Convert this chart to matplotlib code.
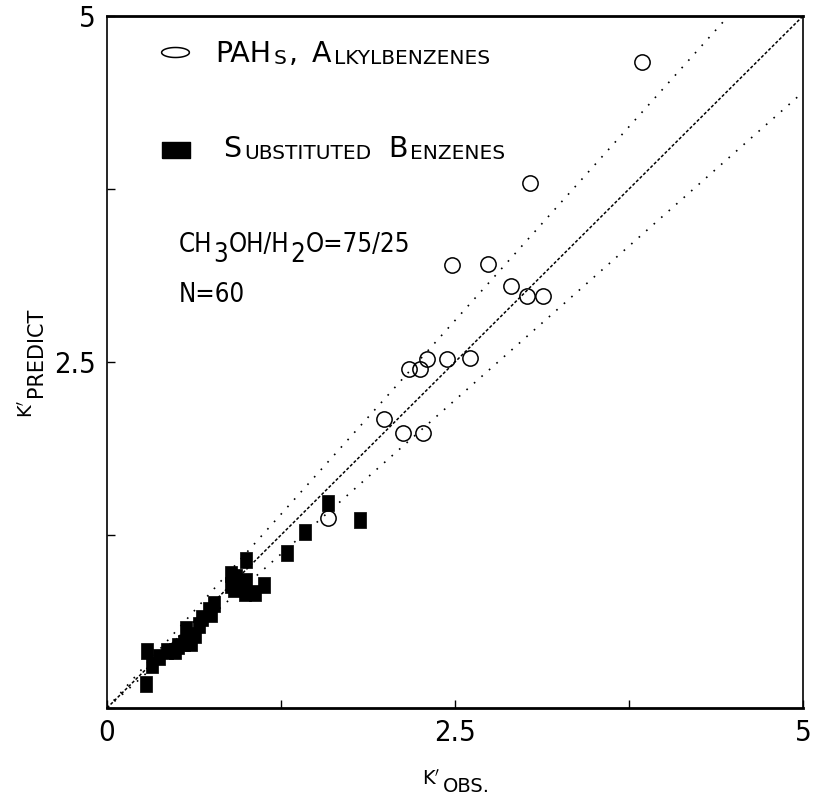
import matplotlib
matplotlib.use('Agg')
import matplotlib.pyplot as plt
import matplotlib.font_manager as fm
from matplotlib.font_manager import FontProperties
import numpy as np

plt.rcParams['mathtext.fontset'] = 'dejavusans'

# ---- find a narrow / condensed regular sans face, else fall back to Roboto ----
NFILE = None
_pref = ['Liberation Sans Narrow', 'DejaVu Sans', 'Noto Sans', 'Open Sans', 'Roboto', 'Liberation Sans']
_cands = []
for f in fm.fontManager.ttflist:
    st = str(f.stretch).lower()
    if f.style != 'normal':
        continue
    try:
        w = int(f.weight)
    except Exception:
        w = 400 if str(f.weight).lower() in ('normal', 'regular') else 0
    if w != 400:
        continue
    if ('condensed' in st) or ('narrow' in f.name.lower()) or ('condensed' in f.name.lower()):
        if 'mono' in f.name.lower() or 'serif' in f.name.lower():
            continue
        _cands.append(f)
for p in _pref:
    for f in _cands:
        if f.name.startswith(p):
            NFILE = f.fname
            break
    if NFILE:
        break


def narrow(size):
    if NFILE:
        return FontProperties(fname=NFILE, size=size)
    return FontProperties(family='Roboto', size=size * 0.9)


WIDE = 'DejaVu Sans'

# PAHs, alkylbenzenes (open circles)
pah_obs = [3.84, 3.04, 2.48, 2.74, 2.90, 3.02, 3.13, 2.17, 2.25, 2.30, 2.44, 2.61, 1.99, 2.13, 2.27, 1.59]
pah_pred = [4.67, 3.79, 3.20, 3.21, 3.05, 2.98, 2.98, 2.45, 2.45, 2.52, 2.52, 2.53, 2.09, 1.99, 1.99, 1.37]

# Substituted benzenes (filled squares)
sub_obs = [0.28, 0.29, 0.32, 0.37, 0.43, 0.49, 0.51, 0.55, 0.60, 0.57, 0.63, 0.66, 0.68, 0.73, 0.75, 0.77,
           0.89, 0.89, 0.93, 1.00, 1.00, 0.99, 1.06, 1.13, 0.91, 1.29, 1.42, 1.59, 1.82]
sub_pred = [0.17, 0.41, 0.31, 0.37, 0.41, 0.41, 0.45, 0.47, 0.47, 0.57, 0.53, 0.60, 0.65, 0.71, 0.68, 0.75,
            0.97, 0.89, 0.95, 1.07, 0.92, 0.83, 0.83, 0.89, 0.86, 1.12, 1.27, 1.48, 1.36]

upper_slope = 1.12
lower_slope = 0.89

xticks = [0, 1.25, 2.5, 3.75, 5]
xticklabels = ['0', '', '2.5', '', '5']
yticks = [0, 1.25, 2.5, 3.75, 5]
yticklabels = ['', '', '2.5', '', '5']

W, H = 813, 796
fig = plt.figure(figsize=(W / 100, H / 100), dpi=100)
L, R, T, B = 107, 803, 16, 708
ax = fig.add_axes([L / W, 1 - B / H, (R - L) / W, (B - T) / H])
ax.set_xlim(0, 5)
ax.set_ylim(0, 5)

xx = np.array([0.0, 5.0])
ax.plot(xx, xx, color='black', lw=1.1, linestyle=(0, (2.0, 1.3)), zorder=2)
ax.plot(xx, upper_slope * xx, color='black', lw=1.2, linestyle=(0, (1, 5)), zorder=2)
ax.plot(xx, lower_slope * xx, color='black', lw=1.2, linestyle=(0, (1, 5)), zorder=2)

rect = [(-0.37, -0.5), (0.37, -0.5), (0.37, 0.5), (-0.37, 0.5), (-0.37, -0.5)]
ax.plot(sub_obs, sub_pred, linestyle='none', marker=rect, ms=12, mfc='black', mec='black', mew=0.5, zorder=3)
ax.plot(pah_obs, pah_pred, linestyle='none', marker='o', ms=11, mfc='none', mec='black', mew=1.1, zorder=3)

# spines
for s in ['top', 'bottom']:
    ax.spines[s].set_linewidth(2)
for s in ['left', 'right']:
    ax.spines[s].set_linewidth(1.2)
    ax.spines[s].set_linestyle((0, (3, 1)))

ax.set_xticks(xticks)
ax.set_xticklabels(xticklabels)
ax.set_yticks(yticks)
ax.set_yticklabels(yticklabels)
ax.tick_params(direction='in', length=6, width=1, pad=8)
for lbl in ax.get_xticklabels() + ax.get_yticklabels():
    lbl.set_fontproperties(narrow(21))

# legend markers
th = np.linspace(0, 2 * np.pi, 60)
ell = list(zip(0.5 * np.cos(th), 0.18 * np.sin(th)))
ax.plot([0.0977], [0.948], transform=ax.transAxes, marker=ell, ms=20, mfc='none', mec='black',
        mew=1.1, linestyle='none', clip_on=False)
lrect = [(-0.5, -0.27), (0.5, -0.27), (0.5, 0.27), (-0.5, 0.27), (-0.5, -0.27)]
ax.plot([0.099], [0.806], transform=ax.transAxes, marker=lrect, ms=20, mfc='black', mec='black',
        linestyle='none', clip_on=False)


def chain(x, y, parts, fpfunc):
    prev = None
    cur_dy = 0
    for text, size, dy, dx in parts:
        fp = fpfunc(size)
        if prev is None:
            prev = ax.text(x, y, text, transform=ax.transAxes, fontproperties=fp,
                           va='baseline', ha='left')
        else:
            prev = ax.annotate(text, xy=(1, 0), xycoords=prev, xytext=(dx, dy - cur_dy),
                               textcoords='offset points', fontproperties=fp,
                               va='bottom', ha='left')
        cur_dy = dy


def wide(size):
    return FontProperties(family=WIDE, size=size)


BIG, SMALL = 20.5, 14.5
chain(0.155, 0.9335, [("PAH", BIG, 0, 0), ("S", SMALL, 0, 2), (",", BIG, 0, 1.5),
                      ("A", BIG, 0, 10), ("LKYLBENZENES", SMALL, 0, 2)], wide)
chain(0.1667, 0.796, [("S", BIG, 0, 0), ("UBSTITUTED", SMALL, 0, 2), ("B", BIG, 0, 12),
                      ("ENZENES", SMALL, 0, 2)], wide)
CS = 18.5
chain(0.1034, 0.659, [("CH", CS, 0, 0), ("3", CS, -7, 0.5), ("OH/H", CS, 0, 0.5),
                      ("2", CS, -7, 0.5), ("O=75/25", CS, 0, 0.5)], narrow)
chain(0.1034, 0.5867, [("N=60", CS, 0, 0)], narrow)


def fx(px):
    return px / W


def fy(py):
    return 1 - py / H


# x label
fig.text(fx(441), fy(779), r"K$'$", fontsize=14, family=WIDE, ha='right', va='center')
fig.text(fx(443), fy(787), "OBS.", fontsize=14, family=WIDE, ha='left', va='center')
# y label
fig.text(fx(27), fy(399), r"K$'$", fontsize=14, family=WIDE, ha='center', va='top', rotation=90)
fig.text(fx(36), fy(397), "PREDICT", fontsize=15, family=WIDE, ha='center', va='bottom', rotation=90)

fig.savefig('out.png', dpi=100)
